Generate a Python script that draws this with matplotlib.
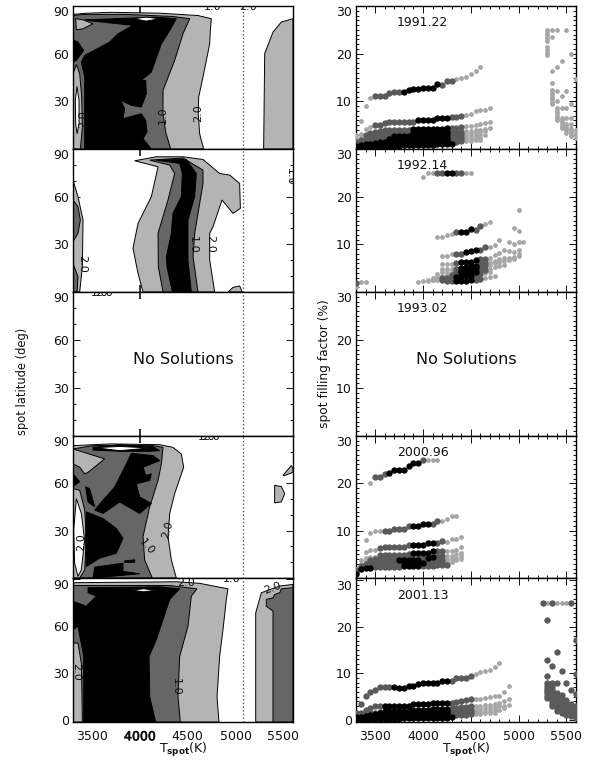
import matplotlib
matplotlib.use("Agg")
import matplotlib.pyplot as plt
import matplotlib.patheffects as pe
from matplotlib.ticker import MultipleLocator

LIGHT = "#b4b4b4"
DARK = "#666666"
DOT_COLORS = {"l": "#a6a6a6", "d": "#5a5a5a", "k": "#000000"}
DOT_SIZES = {"l": 12, "d": 21, "k": 21}

EPOCHS = ["1991.22", "1992.14", "1993.02", "2000.96", "2001.13"]
T_TICKS = [3500, 4000, 4500, 5000, 5500]
T_SUN_LINE = 5074

# temperature grid of the models
TEMPS = [3300, 3350, 3400, 3450, 3500, 3550, 3600, 3650, 3700, 3750, 3800, 3850,
         3900, 3950, 4000, 4050, 4100, 4150, 4200, 4250, 4300, 4350, 4400, 4450,
         4500, 4550, 4600, 4650, 4700, 4750, 4800, 4850, 4900, 4950, 5000, 5050]

# contour regions, (T, lat, fill), painted in this order
MAP_1991 = [
    ([3300, 4666, 4624, 4610, 4614, 4659, 4729, 4736, 4746, 4607, 4200, 3700, 3450, 3300],
     [0, 0, 9.6, 22.2, 32.7, 45.3, 66.2, 74.6, 82, 84, 85.5, 86, 85.5, 84.7], "light"),
    ([5293, 5304, 5391, 5478, 5600, 5600], [0, 60, 73.6, 79.9, 82, 0], "light"),
    ([3300, 4321, 4269, 4241, 4241, 4363, 4450, 4520, 4345, 3858, 3405, 3300],
     [0, 0, 10.7, 22.2, 36.9, 55.8, 72.5, 82, 83.4, 84.7, 84.7, 84], "dark"),
    ([3422, 4119, 4032, 4074, 4060, 4014, 3823, 3840, 3798, 3910, 4014, 4067, 4060, 4014,
      4119, 4224, 4311, 4380, 4171, 3422, 3509, 3927, 3770, 3683, 3422, 3387, 3422],
     [0, 0, 6.5, 10.7, 18, 22.2, 19.1, 25.4, 30.6, 27.5, 26.4, 34.8, 43.2, 43.2,
      48.4, 66.2, 74.6, 82, 83, 81.3, 80.5, 77.8, 72.5, 67.3, 58.9, 54.7, 45.3], "black"),
    ([3300, 3352, 3411, 3335, 3300], [68.8, 67.3, 62, 55.8, 54.7], "black"),
    ([3328, 3405, 3509, 3405, 3335], [82, 81.3, 78.8, 75.7, 75], "light"),
    ([3300, 3377, 3398, 3391, 3370, 3335, 3307, 3300],
     [0, 0, 13.8, 32.7, 47.4, 53.2, 48.4, 45.3], "light"),
    ([3342, 3363, 3363, 3342, 3328, 3324], [39.4, 30.6, 15.9, 9.6, 15.9, 30.6], "white"),
    ([3927, 4067, 4206, 4067], [82, 83, 82, 80.5], "white"),
]
MAP_1992 = [
    ([4032, 3980, 3927, 3980, 4119, 4189, 3945, 4171, 4450, 4659, 4833, 4938, 5042, 5050,
      4973, 4858, 4764, 4729, 4729, 4781],
     [0, 11.7, 27.5, 43.2, 60, 78.8, 82.6, 85.1, 85.1, 83.4, 74.6, 73.6, 68.3, 52.6,
      49.5, 57.9, 41.1, 36.9, 20.1, 0], "light"),
    ([4241, 4192, 4189, 4293, 4363, 4311, 4102, 4450, 4659, 4659, 4607, 4572, 4555, 4607],
     [0, 15.9, 36.9, 57.9, 74.6, 79.9, 83, 84.3, 76.7, 68.3, 49.5, 36.9, 22.2, 0], "dark"),
    ([4339, 4283, 4276, 4328, 4345, 4433, 4443, 4415, 4171, 4485, 4589, 4572, 4502, 4502, 4537],
     [0, 15.9, 22.2, 36.9, 49.5, 60, 74.6, 80.9, 83, 83.4, 74.6, 60, 45.3, 20.1, 0], "black"),
    ([3300, 3352, 3405, 3398, 3370, 3300], [70.4, 60, 45.3, 15.9, 0, 0], "light"),
    ([3300, 3352, 3377, 3352, 3300], [57.9, 53.7, 45.3, 36.9, 31.7], "dark"),
    ([3300, 3352, 3342, 3300], [18, 9.6, 0, 0], "dark"),
    ([4920, 4973, 5042, 5070], [0, 2.9, 3.8, 0], "light"),
]
MAP_2000 = [
    ([3300, 4380, 4328, 4293, 4311, 4363, 4457, 4433, 4345, 4206, 3700, 3300],
     [0, 0, 11.5, 26.2, 40.9, 53.5, 70.2, 78.6, 82.8, 84.5, 85, 83.9], "light"),
    ([3300, 4129, 4049, 4032, 4102, 4189, 4224, 4241, 4136, 3509, 3300],
     [0, 0, 11.5, 26.2, 45.1, 61.8, 72.3, 82.8, 83.9, 83.9, 81.8], "dark"),
    ([3300, 3631, 3457, 3422, 3370, 3300], [81.8, 75.5, 67, 66, 70.2, 72.3], "light"),
    ([3300, 3370, 3300], [66, 61, 58], "black"),
    ([3300, 3370, 3422, 3439, 3422, 3370, 3300], [56.6, 55.6, 43, 26.2, 5.2, 0, 0], "light"),
    ([3335, 3387, 3422, 3387, 3352, 3317, 3307], [50.3, 40.9, 24.1, 5.2, 1, 9.4, 30.4], "white"),
    ([4136, 3910, 3858, 3736, 3614, 3527, 3614, 3788, 3997, 4119, 3997, 3962, 4102, 4119,
      4060, 4032, 4206],
     [77.6, 79, 72.3, 57.7, 49.3, 43, 40.9, 48.2, 40.9, 47.2, 51.4, 59.7, 61.8, 66,
      65, 70.2, 74.4], "black"),
    ([3432, 3474, 3527, 3457], [57.7, 56.6, 45.1, 48.2], "black"),
    ([3439, 3614, 3753, 3823, 3753, 3579, 3439, 3432],
     [41.9, 37.7, 31.4, 25.2, 15.7, 12.6, 7.3, 24.1], "black"),
    ([3527, 3823, 3823, 3997, 3509], [6.9, 9.4, 4.2, 2.7, 0], "black"),
    ([3840, 3945, 3945, 3840], [10.9, 11.5, 9.9, 9.9], "black"),
    ([3509, 3788, 4136, 4206, 4102, 3788, 3509], [82.8, 84.5, 83.2, 80.7, 80.3, 80.3, 81.1], "black"),
    ([3526, 3788, 4102, 3788], [82.6, 83.4, 82.4, 80.7], "white"),
    ([5495, 5583, 5600, 5600, 5513], [65, 71.3, 69.2, 67, 65], "light"),
    ([5408, 5478, 5513, 5478, 5408], [58.7, 58, 53.5, 48.2, 47.6], "light"),
]
MAP_2001 = [
    ([3300, 4826, 4806, 4833, 4868, 4903, 4920, 4624, 4380, 3300],
     [-1.1, -1.1, 15, 40.7, 57.8, 77.1, 83.9, 87.4, 88.4, 87.8], "light"),
    ([5210, 5210, 5269, 5461, 5600, 5600], [-1.1, 68.5, 81.4, 85.7, 86.7, -1.1], "light"),
    ([3300, 4422, 4398, 4415, 4502, 4537, 4596, 4311, 3300],
     [-1.1, -1.1, 15, 40.7, 60, 79.2, 83.9, 86, 86], "dark"),
    ([5391, 5391, 5321, 5321, 5391, 5408, 5461, 5478, 5600, 5600],
     [-1.1, 69.6, 72.8, 77.1, 78.2, 80.3, 81.4, 83.9, 84.6, -1.1], "dark"),
    ([3412, 4164, 4102, 4095, 4171, 4311, 4415, 4206, 3457, 3457, 3544, 3439, 3300, 3300,
      3352, 3412, 3412],
     [-1.1, -1.1, 15, 40.7, 51.4, 77.1, 83.9, 85.2, 84.6, 81.4, 79.2, 72.8, 76, 57.8,
      60, 40.7, 15], "black"),
    ([3300, 3352, 3387, 3394, 3398, 3300], [49.3, 49.3, 36.4, 15, -1.1, -1.1], "light"),
    ([3910, 4039, 4171, 4039], [83.1, 83.9, 83.1, 82], "white"),
]

# contour labels: T, lat, text, rotation
LABELS_1991 = [(4241, 21, "1.0", 90), (4607, 22.6, "2.0", 90), (3405, 19, "2.0", 90),
               (4764, 89.4, "1.0", 0), (5130, 89.4, "2.0", 0)]
LABELS_1992 = [(4555, 30, "1.0", -90), (4729, 30.5, "2.0", -90), (3398, 18, "2.0", -90),
               (5570, 72.5, "1.0", -90)]
LABELS_1993 = [(3580, 89.6, "1.0", 0), (3620, 89.6, "2.0", 0)]
LABELS_2000 = [(4293, 30.6, "2.0", 75), (4067, 20, "1.0", -50), (3387, 23, "2.0", 90),
               (4700, 89.6, "1.0", 0), (4740, 89.6, "2.0", 0)]
LABELS_2001 = [(4380, 21.4, "1.0", -90), (3328, 31, "2.0", -90), (4485, 87.8, "2.0", 0),
               (4955, 90.2, "1.0", 0), (5390, 84.5, "2.0", 20)]

# filling factor rows: first T, values on the T grid, level of each point
ROWS_1991 = [
    (3350, [5.8, 9.1, 10.6, 11.2, 11.2, 11.2, 11.8, 11.9, 11.9, 11.9, 12.4, 12.5, 12.5, 12.9,
            12.9, 12.9, 13.6, 13.5, 14.2, 14.2, 14.7, 14.8, 15.2, 15.7, 16.4, 17.2],
     "lll" + "d" * 6 + "k" * 8 + "ddd" + "l" * 6),
    (3300, [2.9, 3.2, 4.3, 4.6, 5.1, 5.1, 5.4, 5.6, 5.6, 5.6, 5.6, 5.6, 5.6, 6, 6, 6, 6, 6.4,
            6.4, 6.4, 6.8, 6.8, 7, 7.2, 7.4, 7.9, 8.1, 8.1, 8.6],
     "llll" + "d" * 9 + "k" * 7 + "ddd" + "l" * 6),
    (3300, [2.2, 2.6, 3, 3.4, 3.6, 3.8, 3.9, 3.9, 3.9, 3.9, 3.9, 3.9, 4.2, 4.2, 4.2, 4.2, 4.2,
            4.2, 4.3, 4.5, 4.5, 4.5, 4.7, 4.8, 4.9, 5.1, 5.3, 5.4, 5.6],
     "ll" + "d" * 10 + "k" * 8 + "ddd" + "l" * 6),
    (3300, [1.4, 1.8, 2.2, 2.6, 2.9, 3, 3.1, 3.2, 3.2, 3.2, 3.2, 3.2, 3.3, 3.3, 3.3, 3.3, 3.4,
            3.4, 3.4, 3.5, 3.5, 3.5, 3.6, 3.7, 3.8, 3.9, 4, 4.2, 4.4],
     "d" * 12 + "k" * 8 + "ddd" + "l" * 6),
    (3300, [1, 1.3, 1.6, 2, 2.3, 2.5, 2.6, 2.7, 2.7, 2.7, 2.7, 2.8, 2.8, 2.8, 2.9, 2.9, 2.9,
            2.9, 3, 3, 3, 3, 3.1, 3.2, 3.3, 3.4, 3.5, 3.7],
     "d" * 8 + "k" * 12 + "ddd" + "l" * 5),
    (3300, [0.7, 0.9, 1.1, 1.4, 1.7, 1.9, 2, 2.1, 2.1, 2.1, 2.2, 2.2, 2.2, 2.2, 2.3, 2.3, 2.3,
            2.4, 2.4, 2.4, 2.4, 2.5, 2.5, 2.6, 2.7, 2.8, 2.9, 3],
     "kkk" + "d" * 4 + "k" * 13 + "ddd" + "l" * 5),
    (3300, [0.4, 0.6, 0.8, 1, 1.2, 1.4, 1.5, 1.6, 1.6, 1.6, 1.6, 1.7, 1.7, 1.7, 1.7, 1.8, 1.8,
            1.8, 1.8, 1.9, 1.9, 1.9, 2, 2.1, 2.2, 2.3, 2.4],
     "k" * 20 + "ddd" + "l" * 4),
    (3300, [0.2, 0.3, 0.5, 0.7, 0.8, 1, 1.1, 1.1, 1.2, 1.2, 1.2, 1.2, 1.3, 1.3, 1.3, 1.3, 1.3,
            1.4, 1.4, 1.4, 1.5, 1.5, 1.6, 1.6, 1.7, 1.8, 1.9],
     "k" * 20 + "ddd" + "l" * 4),
    (3300, [0.1, 0.2, 0.3, 0.4, 0.5, 0.6, 0.6, 0.7, 0.7, 0.7, 0.8, 0.8, 0.8, 0.8, 0.9, 0.9, 0.9,
            1, 1, 1, 1.1], "k" * 21),
]
# hot side columns: T, values, level of all points
COLS_1991 = [
    (5300, [25, 24.4, 23.9, 23.2, 22.7, 21.4, 20.7, 20.1, 19.7], "l"),
    (5350, [25, 23.5, 16.4, 13.9, 12.3, 11.8, 11.3, 10.8, 10.4, 9.9, 9.4], "l"),
    (5400, [25, 17.1, 12.2, 10, 8.5, 8, 7.5, 7, 6.5, 6], "l"),
    (5450, [18.5, 11.1, 8.5, 6.4, 5.9, 5.4, 4.9, 4.4], "l"),
    (5500, [24.9, 12.2, 8.5, 6.6, 5.3, 4.8, 4.3, 3.9, 3.4], "l"),
    (5550, [19.9, 9.5, 6.6, 5.3, 4.5, 4, 3.5, 3, 2.7], "l"),
    (5600, [14.6, 3.9, 3.4, 2.9, 2.4], "l"),
]
ROWS_1992 = [
    (4000, [24.2, 25, 25, 25, 25, 25, 25, 25, 25, 25, 25], "lllddkkddll"),
    (4150, [11.6, 11.6, 12, 12.2, 12.6, 12.6, 12.6, 13.2, 13, 13.8, 14.2, 14.7], "lllldkkkddll"),
    (4200, [7.5, 7.5, 7.9, 7.9, 7.9, 8.4, 8.5, 8.9, 8.9, 9.4, 9.4, 9.8, 11], "lllddkkkddlll"),
    (4200, [5.8, 5.8, 5.8, 6, 6.3, 6.3, 6.3, 6.7, 7, 7, 7.2, 7.7, 8.2, 8.9, 8.6, 8.3, 8.9],
     "llldkkkkdd" + "l" * 7),
    (4200, [4.9, 4.9, 4.9, 4.9, 5, 5.3, 5.5, 5.5, 5.8, 6, 6.3, 6.6, 6.9, 7.2, 7.1, 7.3, 7.9],
     "llldkkkkdd" + "l" * 7),
    (4150, [3.7, 4.1, 4.2, 4.2, 4.3, 4.5, 4.7, 4.8, 5, 5.2, 5.5, 5.7, 6, 6.3, 6.5, 6.7, 6.9, 7.5],
     "lllldkkkkdd" + "l" * 7),
    (4100, [3, 3.2, 3.4, 3.5, 3.6, 3.7, 3.9, 4, 4.2, 4.3, 4.5, 4.7, 4.9, 5.2, 5.4, 5.6],
     "llllddkkkkddllll"),
    (4050, [2.5, 2.6, 2.8, 2.9, 3, 3, 3.1, 3.2, 3.3, 3.4, 3.6, 3.8, 4, 4.2], "llldddkkkkddll"),
    (3950, [2.2, 2.3, 2.4, 2.5, 2.5, 2.5, 2.4, 2.3, 2.3, 2.4, 2.4, 2.5, 2.6, 2.8, 3, 3.2, 3.4],
     "llllldddkkkkddlll"),
    (3300, [1.8, 2, 2.2], "dll"),
]
COLS_1992 = [
    (3300, [1.1], "l"),
    (4900, [10.4], "l"),
    (4950, [13.4, 10], "l"),
    (5000, [17.2, 12.9, 10.4], "l"),
    (5050, [10.4], "l"),
]
ROWS_2000 = [
    (3450, [20, 21.4, 21.4, 22, 22.2, 22.8, 22.8, 22.8, 23.6, 24.3, 24.3, 25, 25, 25, 25],
     "ldddkkkkkkkdlll"),
    (3400, [8, 9.5, 9.9, 9.9, 9.9, 9.9, 10.4, 10.4, 10.4, 10.9, 10.9, 10.9, 11.4, 11.4, 11.4,
            12, 12.1, 12.5, 13, 13], "llll" + "d" * 6 + "kkkkddllll"),
    (3400, [5.5, 6, 6, 6.4, 6.6, 6.6, 6.6, 6.6, 6.6, 6.9, 6.9, 6.9, 6.9, 7.3, 7.3, 7.3, 7.9,
            7.7, 8.2, 8.2, 8.7], "lll" + "d" * 7 + "kkkkkddllll"),
    (3350, [3.7, 4.2, 4.4, 4.4, 4.9, 4.9, 4.9, 4.9, 4.9, 4.9, 5.1, 5.3, 5.3, 5.3, 5.3, 5.8,
            5.8, 5.8, 5.8, 5.8, 6, 6.5], "llll" + "d" * 7 + "kkkkkddllll"),
    (3300, [2, 3, 3.5, 3.8, 4, 4.2, 4.2, 4.2, 4.2, 4.2, 4.2, 4.3, 4.3, 4.3, 4.3, 4.3, 4.5,
            4.6, 4.6, 4.7, 4.7, 5, 5.3], "lll" + "d" * 12 + "kkddllll"),
    (3300, [1.7, 2.5, 3, 3.3, 3.5, 3.6, 3.6, 3.6, 3.7, 3.7, 3.7, 3.7, 3.7, 3.8, 3.8, 3.8,
            3.8, 3.9, 3.9, 4, 4, 4.3, 4.6], "d" * 9 + "k" * 5 + "d" * 5 + "llll"),
    (3300, [1.2, 2.1, 2.5, 2.7, 2.9, 3, 3, 3, 3, 3, 3.1, 3.1, 3.1, 3.1, 3.2, 3.2, 3.2, 3.3,
            3.3, 3.4, 3.4, 3.7, 4], "d" * 10 + "k" * 5 + "d" * 4 + "llll"),
    (3300, [0.9, 1.9, 2.1, 2.2, 2.3, 2.4, 2.4, 2.4, 2.4, 2.4, 2.5, 2.5, 2.5, 2.5, 2.6, 2.6,
            2.6, 2.7, 2.7, 2.8], "kkkk" + "d" * 6 + "kkkk" + "d" * 6),
]
ROWS_2001 = [
    (3350, [3.5, 5.1, 5.9, 6.4, 7, 7, 7, 7, 6.9, 6.9, 7.3, 7.3, 7.6, 8, 8, 8, 8, 8.4, 8.4, 8.4,
            9, 9, 9, 9.4, 9.9, 10.3, 10.5, 10.7, 11.3, 12.3], "d" * 7 + "k" * 12 + "d" * 5 + "l" * 6),
    (3300, [1.4, 1.6, 2.2, 2.5, 2.9, 3.1, 3, 3, 3, 3.1, 3.1, 3.1, 3.4, 3.4, 3.4, 3.4, 3.7, 3.7,
            3.7, 3.7, 3.7, 3.9, 4, 4.2, 4.5, 4.5, 4.5, 4.75, 4.9, 5.1, 5.1, 5.9, 7.3],
     "d" * 6 + "k" * 14 + "d" * 5 + "l" * 8),
    (3300, [0.9, 1, 1.2, 1.4, 1.6, 1.8, 1.9, 1.9, 2, 2, 2, 2, 2.1, 2.1, 2.2, 2.2, 2.3, 2.3, 2.4,
            2.4, 2.5, 2.6, 2.7, 2.8, 2.9, 3, 3.1, 3.2, 3.3, 3.5, 3.7, 4, 4.4],
     "d" * 6 + "k" * 14 + "d" * 5 + "l" * 8),
    (3300, [0.6, 0.7, 0.9, 1.1, 1.3, 1.4, 1.5, 1.5, 1.5, 1.6, 1.6, 1.6, 1.6, 1.7, 1.7, 1.7, 1.8,
            1.8, 1.8, 1.9, 1.9, 2, 2, 2.1, 2.2, 2.3, 2.4, 2.5, 2.6, 2.7, 2.9, 3.1, 3.3],
     "k" * 20 + "d" * 5 + "l" * 8),
    (3300, [0.3, 0.4, 0.6, 0.7, 0.9, 1, 1, 1.1, 1.1, 1.1, 1.1, 1.2, 1.2, 1.2, 1.2, 1.3, 1.3, 1.3,
            1.3, 1.4, 1.4, 1.5, 1.5, 1.6, 1.7, 1.7, 1.8, 1.9, 2, 2.1, 2.2, 2.5],
     "k" * 20 + "d" * 5 + "l" * 7),
    (3300, [0.1, 0.2, 0.3, 0.4, 0.5, 0.6, 0.6, 0.7, 0.7, 0.7, 0.7, 0.8, 0.8, 0.8, 0.8, 0.8, 0.9,
            0.9, 0.9, 0.9, 1, 1, 1.1, 1.1, 1.2, 1.2, 1.3, 1.4, 1.5, 1.6],
     "k" * 20 + "d" * 5 + "l" * 5),
    (3300, [0, 0.1, 0.1, 0.2, 0.2, 0.3, 0.3, 0.3, 0.3, 0.3, 0.4, 0.4, 0.4, 0.4, 0.4, 0.5, 0.5,
            0.5, 0.5, 0.5, 0.6], "k" * 21),
]
COLS_2001 = [
    (5250, [25], "d"),
    (5300, [25], "l"),
    (5400, [25], "l"),
    (5450, [25], "l"),
    (5500, [25], "l"),
    (5300, [21.4, 12.8, 9.4, 8, 7.2, 6.7, 6.2, 5.7, 5.2, 4.8], "d"),
    (5350, [25, 11.6, 8, 7, 6.5, 6, 5.5, 5, 4.5, 4, 3.5, 3], "d"),
    (5400, [14.6, 8, 5.8, 5, 4.5, 4, 3.5, 3, 2.5, 2], "d"),
    (5450, [10.4, 5.3, 4.6, 4.1, 3.6, 3.1, 2.6, 2.1, 1.6], "d"),
    (5500, [8, 4.2, 3.6, 3.1, 2.6, 2.1, 1.6, 1.1], "d"),
    (5550, [25, 6.4, 3.5, 3, 2.5, 2, 1.5, 1, 0.8], "d"),
    (5600, [17.2, 9.9, 5.6, 3, 2.4, 1.8, 1.3, 0.9, 0.5], "d"),
]

MAPS = [MAP_1991, MAP_1992, [], MAP_2000, MAP_2001]
LABELS = [LABELS_1991, LABELS_1992, LABELS_1993, LABELS_2000, LABELS_2001]
ROWS = [ROWS_1991, ROWS_1992, [], ROWS_2000, ROWS_2001]
COLS = [COLS_1991, COLS_1992, [], [], COLS_2001]


def make_axes(fig, left, top, bottom):
    W, H = 597.0, 762.0
    return fig.add_axes([left / W, 1 - bottom / H, 220 / W, (bottom - top) / H])


def style_axes(ax):
    ax.set_xlim(3300, 5600)
    ax.tick_params(which="both", direction="in", top=True, right=True, labelsize=9,
                   width=0.7, pad=3, colors="#111111")
    ax.tick_params(which="major", length=5)
    ax.tick_params(which="minor", length=2.5)
    for s in ax.spines.values():
        s.set_linewidth(1.0)


def lift_top_label(ax):
    # IDL pushes the top label down so it does not hit the panel above
    ax.get_yticklabels()[-1].set_va("top")


def draw_map(ax, regions, labels):
    fills = {"light": LIGHT, "dark": DARK, "black": "black", "white": "white"}
    for t, lat, fill in regions:
        ax.fill(t, lat, facecolor=fills[fill], edgecolor="black", linewidth=0.7, zorder=1)
    ax.axvline(T_SUN_LINE, color="#555555", linestyle=":", linewidth=1.0, zorder=2)
    for t, lat, s, rot in labels:
        ax.text(t, lat, s, rotation=rot, fontsize=8, ha="center", va="center",
                rotation_mode="anchor", clip_on=True, zorder=3, color="#111111")


def draw_dots(ax, rows, cols):
    pts = {"l": ([], []), "d": ([], []), "k": ([], [])}
    for t0, values, levels in rows:
        i = TEMPS.index(t0)
        for t, f, lev in zip(TEMPS[i:], values, levels):
            pts[lev][0].append(t)
            pts[lev][1].append(f)
    for t, values, lev in cols:
        for f in values:
            pts[lev][0].append(t)
            pts[lev][1].append(f)
    for lev in ["l", "d", "k"]:
        ax.scatter(pts[lev][0], pts[lev][1], s=DOT_SIZES[lev], c=DOT_COLORS[lev],
                   linewidths=0, zorder=3)


fig = plt.figure(figsize=(5.97, 7.62), dpi=100)
edges = [6, 149, 292, 436, 578, 722]

for i in range(5):
    last = i == 4
    axl = make_axes(fig, 73, edges[i], edges[i + 1])
    axr = make_axes(fig, 356, edges[i], edges[i + 1])

    axl.set_axisbelow(True)
    style_axes(axl)
    axl.set_ylim(-1.07 if last else 0, 90.8 if last else 90)
    axl.yaxis.set_minor_locator(MultipleLocator(10))
    axl.set_yticks([0, 30, 60, 90] if last else [30, 60, 90])
    if last:
        axl.set_xticks(T_TICKS)
        axl.tick_params(axis="x", which="major", length=0, pad=6)
        # the 4000 label is struck twice in the original
        axl.get_xticklabels()[1].set_path_effects(
            [pe.withStroke(linewidth=0.5, foreground="#111111")])
    else:
        axl.set_xticks([4000])
        axl.tick_params(axis="x", which="major", length=5, width=1.2, labelbottom=False)
    draw_map(axl, MAPS[i], LABELS[i])
    lift_top_label(axl)

    style_axes(axr)
    axr.set_ylim(-0.43 if last else 0, 30.4 if last else 30)
    axr.set_yticks([0, 10, 20, 30] if last else [10, 20, 30])
    axr.yaxis.set_minor_locator(MultipleLocator(1))
    axr.set_xticks(T_TICKS)
    axr.xaxis.set_minor_locator(MultipleLocator(100))
    if last:
        axr.tick_params(axis="x", which="major", pad=6)
    else:
        axr.tick_params(axis="x", labelbottom=False)
    draw_dots(axr, ROWS[i], COLS[i])
    axr.text(3725, 26.6, EPOCHS[i], fontsize=9, va="center", color="#111111")
    lift_top_label(axr)

    if i == 2:
        axl.text(4450, 48, "No Solutions", fontsize=11.5, ha="center", va="center", color="#111111")
        axr.text(4450, 16, "No Solutions", fontsize=11.5, ha="center", va="center", color="#111111")

fig.text(23 / 597, 1 - 381 / 762, "spot latitude (deg)", rotation=90, fontsize=8.3,
         ha="center", va="center", color="#111111")
fig.text(325 / 597, 1 - 364 / 762, "spot filling factor (%)", rotation=90, fontsize=8.8,
         ha="center", va="center", color="#111111")
for cx in [183, 466]:
    fig.text(cx / 597, 1 - 750 / 762, r"T$_{\mathbf{spot}}$(K)", fontsize=9, ha="center",
             va="center", color="#111111")

fig.savefig("out.png", dpi=100)
